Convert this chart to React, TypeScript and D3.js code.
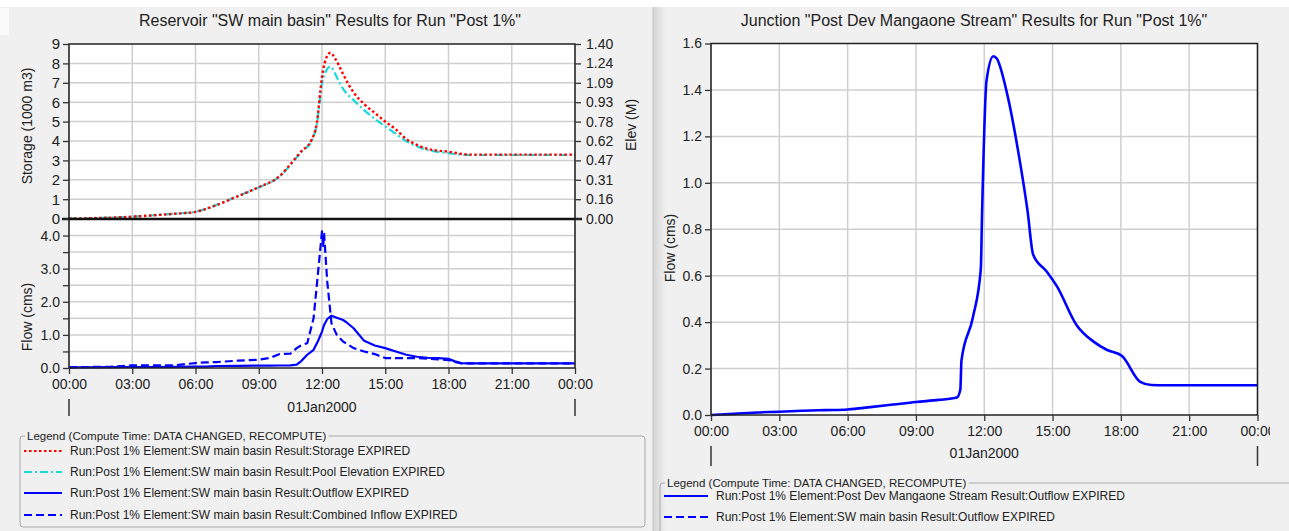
import React, { useRef, useEffect } from 'react';
import * as d3 from 'd3';

// Reservoir "SW main basin" (hours after 00:00 01Jan2000)
const resHours = [0, 1, 2, 3, 4, 5, 6, 7, 8, 9, 10, 10.5, 11, 11.5, 11.75, 12, 12.25, 12.4, 12.6, 12.8, 13, 13.5, 14, 14.5, 15, 15.5, 16, 16.5, 17, 17.5, 18, 18.5, 19, 20, 21, 22, 23, 24];
const storage = [0, 0.02, 0.05, 0.1, 0.17, 0.25, 0.35, 0.7, 1.15, 1.62, 2.2, 2.8, 3.45, 4.05, 4.9, 7.3, 8.4, 8.55, 8.3, 7.9, 7.45, 6.5, 5.9, 5.45, 5.0, 4.6, 4.1, 3.8, 3.6, 3.5, 3.45, 3.35, 3.3, 3.3, 3.3, 3.3, 3.3, 3.3];
const poolElev = [0, 0.003, 0.008, 0.016, 0.027, 0.039, 0.055, 0.11, 0.18, 0.25, 0.34, 0.43, 0.53, 0.62, 0.75, 1.08, 1.2, 1.22, 1.17, 1.1, 1.04, 0.95, 0.87, 0.8, 0.74, 0.68, 0.62, 0.58, 0.55, 0.535, 0.525, 0.515, 0.51, 0.51, 0.51, 0.51, 0.51, 0.51];

const flowHours = [0, 1, 2, 3, 4, 5, 6, 6.5, 7, 8, 9, 9.5, 10, 10.5, 10.8, 11, 11.3, 11.6, 11.8, 12, 12.05, 12.1, 12.25, 12.45, 12.7, 13, 13.2, 13.5, 14, 14.5, 15, 15.5, 16, 16.5, 17, 17.5, 18, 18.3, 18.6, 19, 20, 21, 22, 23, 24];
const outflow = [0.02, 0.02, 0.025, 0.03, 0.03, 0.035, 0.04, 0.04, 0.06, 0.065, 0.07, 0.07, 0.075, 0.08, 0.1, 0.2, 0.4, 0.55, 0.8, 1.1, 1.2, 1.3, 1.48, 1.58, 1.52, 1.45, 1.36, 1.2, 0.82, 0.68, 0.6, 0.5, 0.4, 0.34, 0.31, 0.3, 0.28, 0.2, 0.15, 0.14, 0.14, 0.14, 0.14, 0.14, 0.14];
const inflow = [0.02, 0.03, 0.04, 0.08, 0.08, 0.08, 0.15, 0.17, 0.18, 0.22, 0.25, 0.3, 0.42, 0.43, 0.6, 0.68, 0.75, 1.5, 2.8, 4.13, 3.65, 4.05, 2.6, 1.35, 1.0, 0.8, 0.72, 0.6, 0.5, 0.42, 0.3, 0.3, 0.3, 0.3, 0.28, 0.26, 0.24, 0.18, 0.14, 0.14, 0.14, 0.14, 0.14, 0.14, 0.14];

// Junction "Post Dev Mangaone Stream"
const juncHours = [0, 1, 2, 3, 4, 5, 6, 7, 8, 9, 10, 10.8, 10.95, 11.0, 11.5, 11.85, 11.9, 12.1, 12.4, 12.55, 13, 13.5, 13.9, 14.15, 14.75, 15.2, 16.05, 16.8, 17.4, 18.05, 18.85, 19.35, 20, 21, 22, 23, 24];
const juncFlow = [0, 0.005, 0.011, 0.014, 0.018, 0.021, 0.024, 0.034, 0.045, 0.056, 0.065, 0.075, 0.11, 0.235, 0.42, 0.63, 0.85, 1.44, 1.545, 1.535, 1.385, 1.13, 0.88, 0.69, 0.617, 0.553, 0.388, 0.316, 0.28, 0.254, 0.143, 0.129, 0.128, 0.128, 0.128, 0.128, 0.128];

const elevTicks = d3.range(10).map((i) => (i * 1.4) / 9);
const leftLegend = [
  { label: 'Run:Post 1% Element:SW main basin Result:Storage EXPIRED', color: '#ff0000', dash: '2.5 2.5' },
  { label: 'Run:Post 1% Element:SW main basin Result:Pool Elevation EXPIRED', color: '#19d9d9', dash: '8 3 2 3' },
  { label: 'Run:Post 1% Element:SW main basin Result:Outflow EXPIRED', color: '#0000ff', dash: null },
  { label: 'Run:Post 1% Element:SW main basin Result:Combined Inflow EXPIRED', color: '#0000ff', dash: '8 4' },
];
const rightLegend = [
  { label: 'Run:Post 1% Element:Post Dev Mangaone Stream Result:Outflow EXPIRED', color: '#0000ff', dash: null },
  { label: 'Run:Post 1% Element:SW main basin Result:Outflow EXPIRED', color: '#0000ff', dash: '8 4' },
];

const W = 1289;
const H = 531;
const FONT = 'Arial, "Liberation Sans", sans-serif';
const TXT = '#222';
const GRID = '#cfcfcf';

const toDate = (h) => new Date(new Date(2000, 0, 1).getTime() + h * 3600 * 1000);
const t0 = toDate(0);
const t1 = toDate(24);

const styleAxis = (g, size = 14) => {
  g.select('.domain').remove();
  g.selectAll('.tick line').attr('stroke', '#333').attr('stroke-width', 1.3);
  g.selectAll('.tick text').attr('fill', TXT).style('font-size', `${size}px`).style('font-family', FONT);
};

const drawSeries = (g, x, y, hours, values, color, dash, width, curve) => {
  const line = d3.line()
    .x((d) => x(toDate(d[0])))
    .y((d) => y(d[1]))
    .curve(curve || d3.curveLinear);
  g.append('path')
    .attr('d', line(hours.map((h, i) => [h, values[i]])))
    .attr('fill', 'none')
    .attr('stroke', color)
    .attr('stroke-width', width)
    .attr('stroke-dasharray', dash)
    .attr('stroke-linejoin', 'round');
};

const drawLegend = (svg, x, y, w, h, items, rowY, textX) => {
  const g = svg.append('g');
  g.append('rect').attr('x', x).attr('y', y).attr('width', w).attr('height', h)
    .attr('rx', 3).attr('fill', 'none').attr('stroke', '#a9a9a9');
  const title = 'Legend (Compute Time: DATA CHANGED, RECOMPUTE)';
  const tt = g.append('text').attr('x', x + 7).attr('y', y + 4).text(title)
    .style('font-size', '11.5px').attr('fill', TXT);
  const bb = tt.node().getBBox();
  g.insert('rect', 'text').attr('x', bb.x - 2).attr('y', y - 2).attr('width', bb.width + 4).attr('height', 4).attr('fill', '#f0f0f0');
  items.forEach((it, i) => {
    const cy = rowY[i];
    g.append('line').attr('x1', x + 4).attr('x2', textX - 8).attr('y1', cy).attr('y2', cy)
      .attr('stroke', it.color).attr('stroke-width', 2).attr('stroke-dasharray', it.dash);
    g.append('text').attr('x', textX).attr('y', cy + 4).text(it.label)
      .style('font-size', '12px').attr('fill', TXT);
  });
};

const App = () => {
  const ref = useRef(null);

  useEffect(() => {
    const svg = d3.select(ref.current);
    svg.selectAll('*').remove();
    svg.attr('width', W).attr('height', H).style('font-family', FONT);

    const defs = svg.append('defs');
    const grad = defs.append('linearGradient').attr('id', 'shade');
    grad.append('stop').attr('offset', '0%').attr('stop-color', '#d4d4d4');
    grad.append('stop').attr('offset', '100%').attr('stop-color', '#f0f0f0');
    defs.append('clipPath').attr('id', 'rclip').append('rect')
      .attr('x', 653).attr('y', 0).attr('width', 617).attr('height', H);

    svg.append('rect').attr('width', W).attr('height', H).attr('fill', '#f0f0f0');
    svg.append('rect').attr('width', W).attr('height', 7).attr('fill', '#ffffff');
    svg.append('rect').attr('x', 0).attr('y', 8).attr('width', 9).attr('height', 27).attr('fill', '#fafafa');
    svg.append('rect').attr('x', 653).attr('y', 7).attr('width', 13).attr('height', H - 7).attr('fill', 'url(#shade)');
    svg.append('line').attr('x1', 653).attr('x2', 653).attr('y1', 7).attr('y2', H).attr('stroke', '#c4c4c4');

    // ---------- Left panel ----------
    const xL = d3.scaleTime().domain([t0, t1]).range([69, 575]);
    const yS = d3.scaleLinear().domain([0, 9]).range([218.6, 44]);
    const yE = d3.scaleLinear().domain([0, 1.4]).range([218.6, 44]);
    const yF = d3.scaleLinear().domain([0, 4.5]).range([368, 219]);
    const hourTicks = xL.ticks(d3.timeHour.every(3));

    svg.append('text').attr('x', 330).attr('y', 26).attr('text-anchor', 'middle')
      .style('font-size', '16px').attr('fill', TXT)
      .text('Reservoir "SW main basin" Results for Run "Post 1%"');

    const L = svg.append('g');
    L.append('rect').attr('x', 69).attr('y', 44).attr('width', 506).attr('height', 324).attr('fill', '#fff');
    // grids
    hourTicks.forEach((t) => {
      L.append('line').attr('x1', xL(t)).attr('x2', xL(t)).attr('y1', 44).attr('y2', 368)
        .attr('stroke', GRID).attr('stroke-width', 1.5);
    });
    d3.range(1, 9).forEach((v) => {
      L.append('line').attr('x1', 69).attr('x2', 575).attr('y1', yS(v)).attr('y2', yS(v))
        .attr('stroke', GRID).attr('stroke-width', 1.5);
    });
    d3.range(0.5, 4.5, 0.5).forEach((v) => {
      L.append('line').attr('x1', 69).attr('x2', 575).attr('y1', yF(v)).attr('y2', yF(v))
        .attr('stroke', GRID).attr('stroke-width', 1.5);
    });

    drawSeries(L, xL, yE, resHours, poolElev, '#19d9d9', '8 3 2 3', 2.2, d3.curveMonotoneX);
    drawSeries(L, xL, yS, resHours, storage, '#ff0000', '2.5 2.5', 2.4, d3.curveMonotoneX);
    drawSeries(L, xL, yF, flowHours, inflow, '#0000ff', '8 4', 2.2);
    drawSeries(L, xL, yF, flowHours, outflow, '#0000ff', null, 2.2);

    // frame
    L.append('rect').attr('x', 69).attr('y', 44).attr('width', 506).attr('height', 324)
      .attr('fill', 'none').attr('stroke', '#222').attr('stroke-width', 1.5);
    L.append('line').attr('x1', 62).attr('x2', 582).attr('y1', 219).attr('y2', 219)
      .attr('stroke', '#111').attr('stroke-width', 2.5);

    const axS = L.append('g').attr('transform', 'translate(69,0)')
      .call(d3.axisLeft(yS).tickValues(d3.range(0, 10)).tickSize(6).tickPadding(3).tickFormat(d3.format('d')));
    styleAxis(axS, 15);
    const axE = L.append('g').attr('transform', 'translate(575,0)')
      .call(d3.axisRight(yE).tickValues(elevTicks).tickSize(6).tickPadding(5).tickFormat(d3.format('.2f')));
    styleAxis(axE);
    const axF = L.append('g').attr('transform', 'translate(69,0)')
      .call(d3.axisLeft(yF).tickValues(d3.range(0, 4.5, 0.5)).tickSize(6).tickPadding(3)
        .tickFormat((d) => (d % 1 === 0 ? d3.format('.1f')(d) : '')));
    styleAxis(axF);
    const axX = L.append('g').attr('transform', 'translate(0,368)')
      .call(d3.axisBottom(xL).tickValues(hourTicks).tickSize(6).tickPadding(5).tickFormat(d3.timeFormat('%H:%M')));
    styleAxis(axX);

    L.append('text').attr('x', xL(toDate(12))).attr('y', 412).attr('text-anchor', 'middle')
      .style('font-size', '14px').attr('fill', TXT).text('01Jan2000');
    [t0, t1].forEach((t) => {
      L.append('line').attr('x1', xL(t)).attr('x2', xL(t)).attr('y1', 399).attr('y2', 416)
        .attr('stroke', '#333').attr('stroke-width', 1.5);
    });

    L.append('text').attr('transform', 'translate(32,126) rotate(-90)').attr('text-anchor', 'middle')
      .style('font-size', '14px').attr('fill', TXT).text('Storage (1000 m3)');
    L.append('text').attr('transform', 'translate(32,317) rotate(-90)').attr('text-anchor', 'middle')
      .style('font-size', '14px').attr('fill', TXT).text('Flow (cms)');
    L.append('text').attr('transform', 'translate(636,125) rotate(-90)').attr('text-anchor', 'middle')
      .style('font-size', '14px').attr('fill', TXT).text('Elev (M)');

    drawLegend(svg, 20, 436, 625, 91, leftLegend, [451, 472, 493, 515], 70);

    // ---------- Right panel ----------
    const xR = d3.scaleTime().domain([t0, t1]).range([711, 1257.5]);
    const yR = d3.scaleLinear().domain([0, 1.6]).range([415, 43.5]);
    const rTicks = xR.ticks(d3.timeHour.every(3));

    svg.append('text').attr('x', 974).attr('y', 26).attr('text-anchor', 'middle')
      .style('font-size', '16px').attr('fill', TXT)
      .text('Junction "Post Dev Mangaone Stream" Results for Run "Post 1%"');

    const R = svg.append('g').attr('clip-path', 'url(#rclip)');
    R.append('rect').attr('x', 711).attr('y', 43.5).attr('width', 546.5).attr('height', 371.5).attr('fill', '#fff');
    rTicks.forEach((t) => {
      R.append('line').attr('x1', xR(t)).attr('x2', xR(t)).attr('y1', 43.5).attr('y2', 415)
        .attr('stroke', GRID).attr('stroke-width', 1.5);
    });
    d3.range(0.2, 1.6, 0.2).forEach((v) => {
      R.append('line').attr('x1', 711).attr('x2', 1257.5).attr('y1', yR(v)).attr('y2', yR(v))
        .attr('stroke', GRID).attr('stroke-width', 1.5);
    });
    drawSeries(R, xR, yR, juncHours, juncFlow, '#0000ff', null, 2.6, d3.curveMonotoneX);
    R.append('rect').attr('x', 711).attr('y', 43.5).attr('width', 546.5).attr('height', 371.5)
      .attr('fill', 'none').attr('stroke', '#222').attr('stroke-width', 1.5);

    const axRY = R.append('g').attr('transform', 'translate(711,0)')
      .call(d3.axisLeft(yR).tickValues(d3.range(0, 1.7, 0.2)).tickSize(6).tickPadding(3).tickFormat(d3.format('.1f')));
    styleAxis(axRY);
    const axRX = R.append('g').attr('transform', 'translate(0,415)')
      .call(d3.axisBottom(xR).tickValues(rTicks).tickSize(6).tickPadding(5).tickFormat(d3.timeFormat('%H:%M')));
    styleAxis(axRX);

    R.append('text').attr('x', xR(toDate(12))).attr('y', 458).attr('text-anchor', 'middle')
      .style('font-size', '14px').attr('fill', TXT).text('01Jan2000');
    [t0, t1].forEach((t) => {
      R.append('line').attr('x1', xR(t)).attr('x2', xR(t)).attr('y1', 446).attr('y2', 466)
        .attr('stroke', '#333').attr('stroke-width', 1.5);
    });
    R.append('text').attr('transform', 'translate(675,248) rotate(-90)').attr('text-anchor', 'middle')
      .style('font-size', '14px').attr('fill', TXT).text('Flow (cms)');

    drawLegend(svg, 660, 483, 640, 60, rightLegend, [496, 517], 716);
  }, []);

  return <svg ref={ref} style={{ position: 'absolute', left: 0, top: 0, display: 'block' }}></svg>;
};

export default App;
